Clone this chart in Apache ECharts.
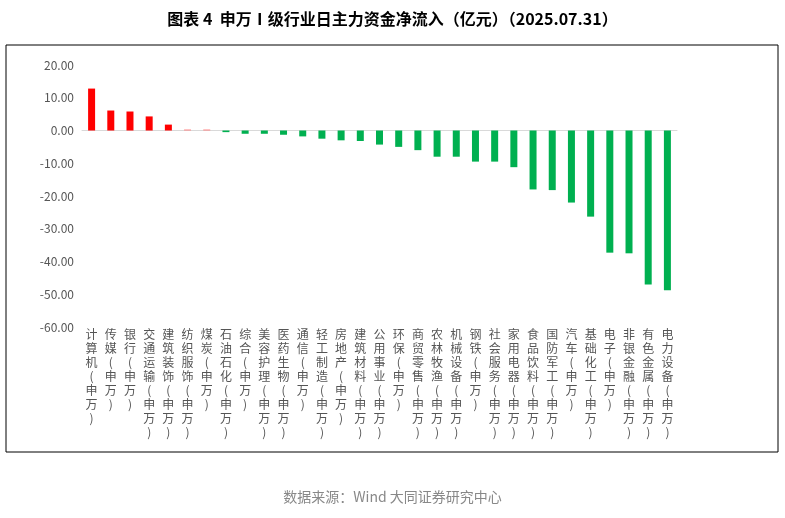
<!DOCTYPE html>
<html><head><meta charset="utf-8">
<script src="https://cdn.jsdelivr.net/npm/echarts@6/dist/echarts.min.js"></script>
<style>html,body{margin:0;padding:0;background:#fff}#c{width:785px;height:518px}</style>
</head><body><div id="c"></div>
<script>
const categories=["计算机(申万)","传媒(申万)","银行(申万)","交通运输(申万)","建筑装饰(申万)","纺织服饰(申万)","煤炭(申万)","石油石化(申万)","综合(申万)","美容护理(申万)","医药生物(申万)","通信(申万)","轻工制造(申万)","房地产(申万)","建筑材料(申万)","公用事业(申万)","环保(申万)","商贸零售(申万)","农林牧渔(申万)","机械设备(申万)","钢铁(申万)","社会服务(申万)","家用电器(申万)","食品饮料(申万)","国防军工(申万)","汽车(申万)","基础化工(申万)","电子(申万)","非银金融(申万)","有色金属(申万)","电力设备(申万)"];
const values=[12.8,6.1,5.8,4.3,1.8,0.3,0.3,-0.5,-1.0,-1.0,-1.3,-1.8,-2.5,-3.0,-3.2,-4.3,-5.0,-6.0,-8.0,-8.0,-9.5,-9.5,-11.2,-18.0,-18.2,-22.0,-26.3,-37.3,-37.5,-47.0,-48.8];
const chart=echarts.init(document.getElementById('c'));
const F='"Noto Sans CJK SC", sans-serif';
chart.setOption({
 animation:false,
 title:{text:'图表 4  申万Ⅰ级行业日主力资金净流入（亿元）（2025.07.31）',left:'center',top:6,textStyle:{fontFamily:F,fontSize:16,fontWeight:'bold',color:'#000'}},
 graphic:[{type:'rect',shape:{x:6,y:45,width:772,height:407},style:{fill:'none',stroke:'#000',lineWidth:1}},
  {type:'text',left:'center',top:490,style:{text:'数据来源：Wind 大同证券研究中心',font:'14px '+F,fill:'#888'}}],
 grid:{left:82,right:108,top:65,bottom:191},
 xAxis:{type:'category',data:categories,axisTick:{show:false},
  axisLine:{onZero:true,lineStyle:{color:'#d9d9d9'}},
  axisLabel:{interval:0,position:'bottom',color:'#555',fontFamily:F,fontSize:12,lineHeight:14,
   formatter:v=>v.split('').join('\n')}},
 yAxis:{type:'value',min:-60,max:20,interval:10,splitLine:{show:false},
  axisLabel:{color:'#555',fontFamily:F,fontSize:12,formatter:v=>v.toFixed(2)}},
 series:[{type:'bar',barWidth:7,data:values.map(v=>({value:v,itemStyle:{color:v>=0?(v<1?'#ff8080':'#ff0000'):'#00b050'}}))}]
});
// keep category labels at the bottom of plot
chart.setOption({xAxis:{axisLabel:{margin:0},position:'bottom'}});
</script></body></html>
